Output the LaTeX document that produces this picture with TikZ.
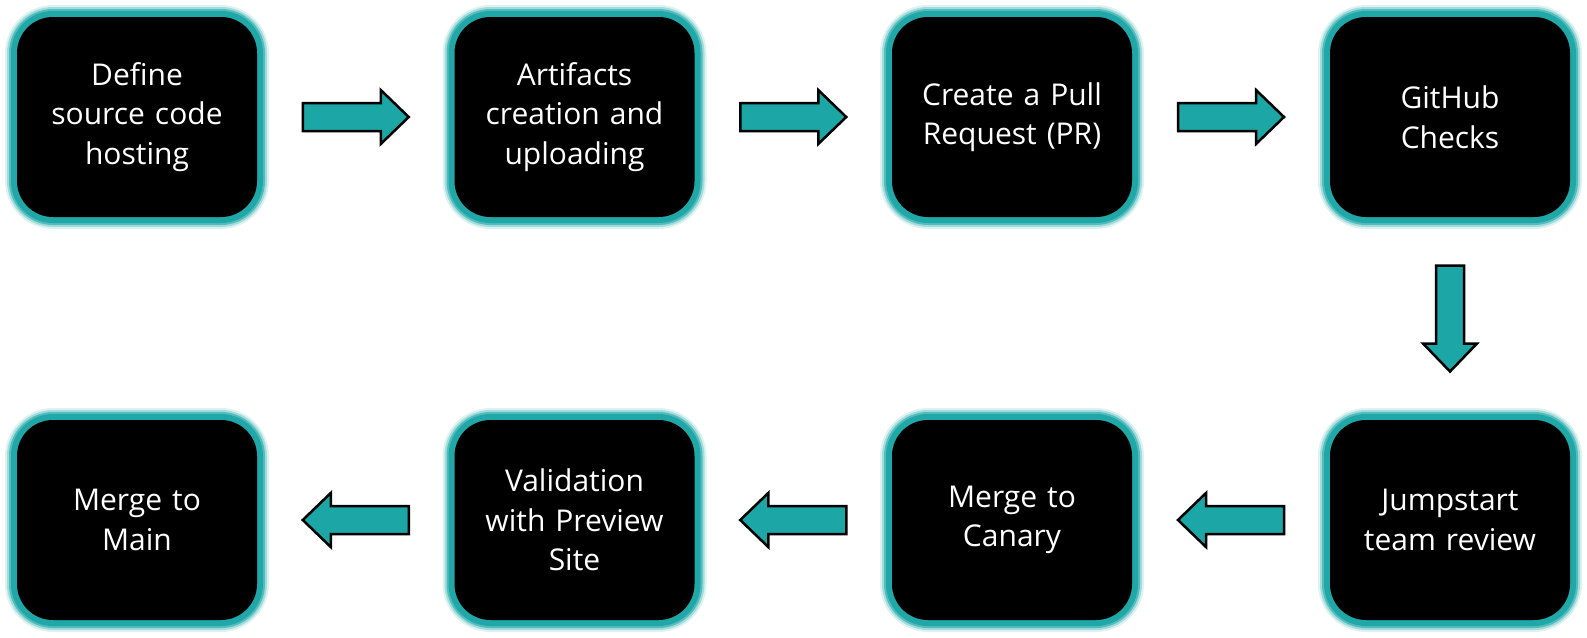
\documentclass[tikz,border=0pt]{standalone}
\usepackage{fontspec}
\setmainfont{Open Sans}
\usetikzlibrary{calc}
\definecolor{glowc}{RGB}{32,168,168}
\definecolor{arrc}{RGB}{28,166,166}
\tikzset{
  x=1pt, y=-1pt,
  stepbox/.style={
    fill=black, rounded corners=36pt,
    minimum width=240pt, minimum height=200pt,
    text width=230pt, align=center, text=white, inner sep=0pt,
    font=\fontsize{30}{39.5}\selectfont,
    preaction={draw=glowc, line width=24pt, opacity=0.15},
    preaction={draw=glowc, line width=20pt, opacity=0.3},
    preaction={draw=glowc, line width=16pt, opacity=0.6},
    preaction={draw=glowc, line width=12pt}
  },
  arrowshape/.style={fill=arrc, draw=black, line width=2.5pt, line join=miter},
  blockarr/.pic={
    \draw[arrowshape] (-53,-14) -- (25,-14) -- (25,-27) -- (53,0) -- (25,27) -- (25,14) -- (-53,14) -- cycle;
  }
}
\begin{document}
\begin{tikzpicture}
\useasboundingbox (0,0) rectangle (1587,637);
\node[stepbox] (s1) at (137,117) {Define\\source code\\hosting};
\node[stepbox] (s2) at (574.5,117) {Artifacts\\creation and\\uploading};
\node[stepbox] (s3) at (1012,117) {Create a Pull\\Request (PR)};
\node[stepbox] (s4) at (1450,117) {GitHub\\Checks};
\node[stepbox] (s5) at (1450,520) {Jumpstart\\team review};
\node[stepbox] (s6) at (1012,520) {Merge to\\Canary};
\node[stepbox] (s7) at (574.5,520) {Validation\\with Preview\\Site};
\node[stepbox] (s8) at (137,520) {Merge to\\Main};
\coordinate (m12) at ($(s1.east)!0.5!(s2.west)$);
\coordinate (m23) at ($(s2.east)!0.5!(s3.west)$);
\coordinate (m34) at ($(s3.east)!0.5!(s4.west)$);
\coordinate (m45) at ($(s4.south)!0.5!(s5.north)$);
\coordinate (m56) at ($(s5.west)!0.5!(s6.east)$);
\coordinate (m67) at ($(s6.west)!0.5!(s7.east)$);
\coordinate (m78) at ($(s7.west)!0.5!(s8.east)$);
\pic at (m12) {blockarr};
\pic at (m23) {blockarr};
\pic at (m34) {blockarr};
\pic[rotate=-90] at (m45) {blockarr};
\pic[rotate=180] at (m56) {blockarr};
\pic[rotate=180] at (m67) {blockarr};
\pic[rotate=180] at (m78) {blockarr};
\end{tikzpicture}
\end{document}
